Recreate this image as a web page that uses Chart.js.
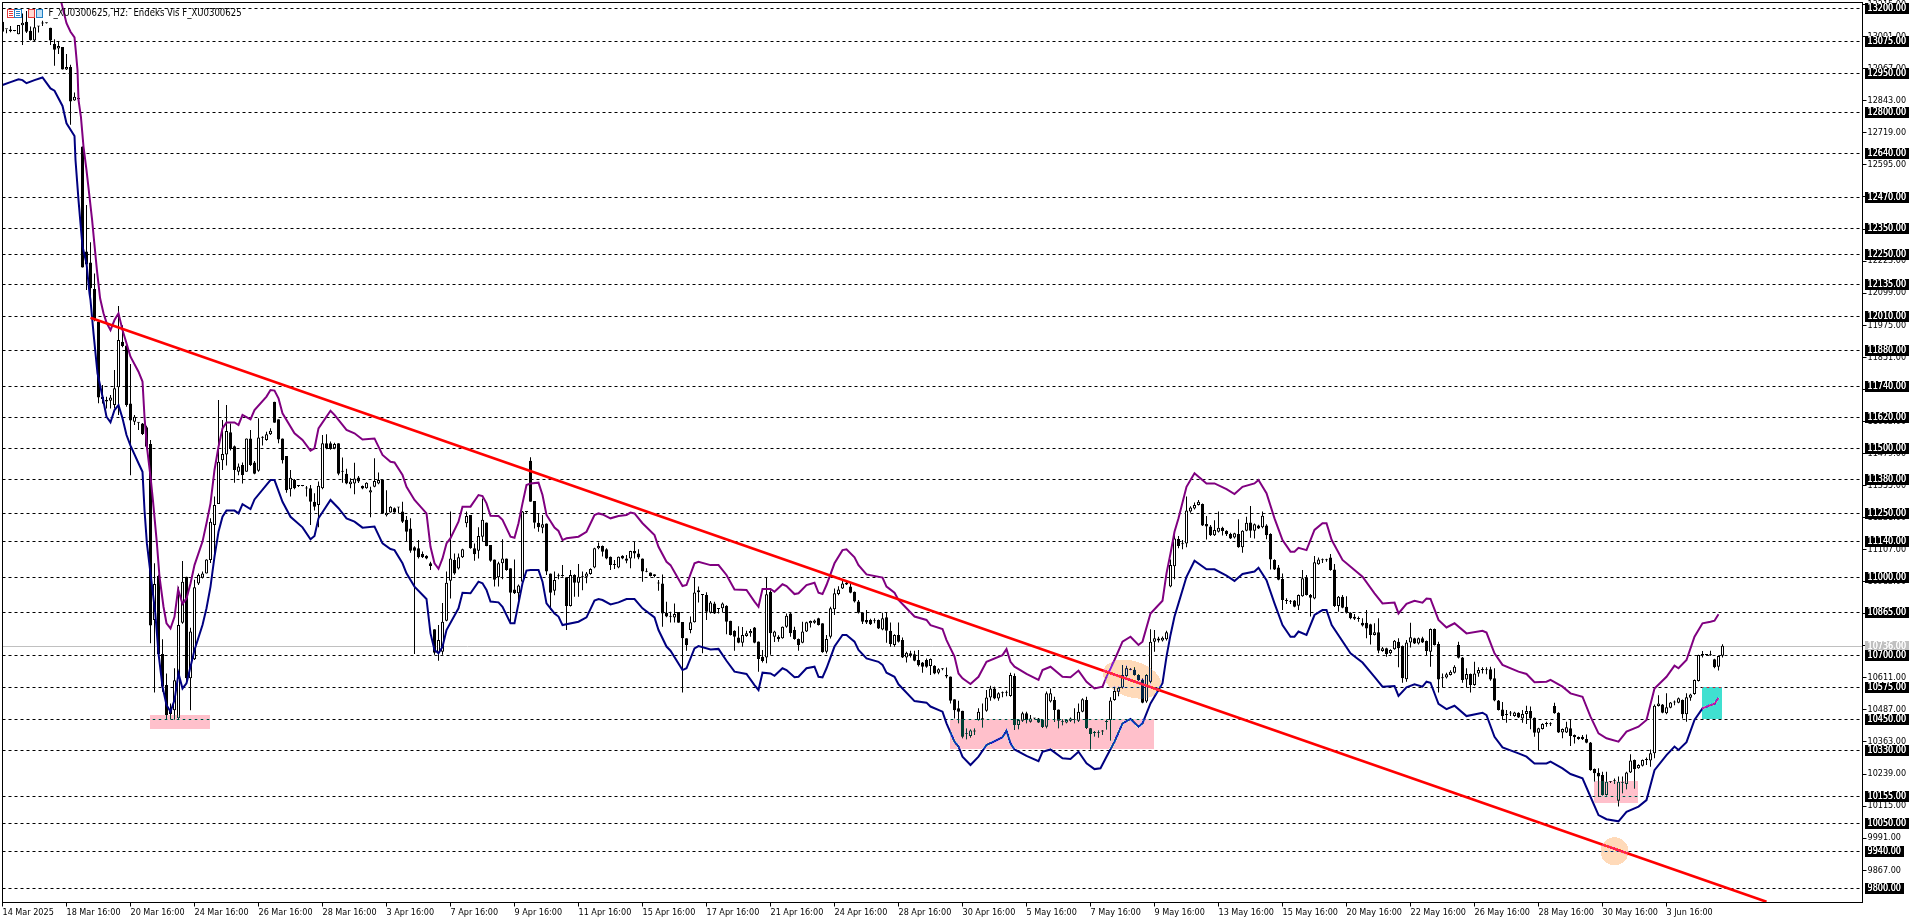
<!DOCTYPE html>
<html><head><meta charset="utf-8">
<style>html,body{margin:0;padding:0;background:#fff;overflow:hidden}canvas{display:block}</style>
<script src="https://cdn.jsdelivr.net/npm/chart.js@4/dist/chart.umd.min.js"></script>
</head><body><canvas id="c" width="1920" height="923" style="width:1920px;height:923px"></canvas>
<script>
const opens=[13149,13120,13119,13113,13100,13135,13149,13114,13076,13130,
13142,13143,13126,13063,13045,13051,12964,12974,12844,12850,
12666,12260,12218,12115,11989,11698,11686,11683,11666,11735,
11911,11896,11672,11602,11598,11595,11580,11515,10835,11005,
10703,10583,10471,10486,10455,10824,11002,10609,10683,10976,
10998,11015,11067,11202,11283,11453,11475,11561,11507,11408,
11434,11408,11537,11444,11412,11540,11531,11553,11679,11611,
11537,11469,11340,11376,11353,11353,11343,11344,11292,11280,
11344,11518,11518,11499,11518,11410,11400,11360,11363,11386,
11353,11344,11328,11350,11363,11376,11240,11251,11267,11270,
11254,11222,11189,11116,11112,11090,11083,11054,10799,10708,
10712,10832,10987,11067,11034,11077,11209,11241,11112,11103,
11157,11212,11125,11069,11000,11054,11073,11035,10953,10938,
10983,11254,11451,11295,11211,11192,11208,11015,10948,11004,
11005,11000,10889,11009,10979,11000,11002,11013,11038,11112,
11121,11108,11079,11047,11038,11083,11073,11073,11102,11092,
11073,11022,11018,11012,10976,10976,10863,10848,10844,10866,
10827,10764,10796,10826,10942,10931,10931,10863,10899,10877,
10880,10890,10832,10793,10767,10747,10773,10783,10806,10752,
10693,10690,10944,10770,10770,10764,10809,10860,10796,10761,
10747,10790,10822,10824,10841,10822,10712,10770,10876,10935,
10957,10972,10964,10944,10906,10863,10835,10835,10831,10835,
10798,10845,10793,10738,10777,10757,10690,10706,10702,10680,
10670,10680,10657,10658,10631,10644,10622,10616,10528,10493,
10484,10396,10386,10403,10448,10450,10484,10535,10570,10531,
10551,10553,10541,10618,10429,10445,10474,10441,10454,10454,
10448,10422,10519,10525,10489,10441,10438,10445,10447,10445,
10480,10525,10416,10399,10399,10403,10440,10448,10525,10557,
10574,10618,10642,10642,10622,10605,10519,10596,10751,10755,
10755,10760,10964,11043,11148,11129,11131,11254,11266,11280,
11283,11206,11196,11163,11176,11192,11180,11167,11154,11167,
11116,11180,11212,11180,11200,11193,11200,11167,11067,11038,
10993,10910,10905,10910,10890,10927,11000,10931,10918,11050,
11067,11067,11076,11030,10889,10925,10886,10863,10847,10840,
10824,10824,10818,10777,10787,10715,10725,10706,10722,10751,
10734,10606,10748,10764,10744,10764,10753,10712,10800,10742,
10609,10612,10622,10631,10738,10690,10605,10626,10583,10628,
10641,10641,10644,10609,10523,10489,10467,10474,10463,10476,
10454,10471,10483,10457,10399,10413,10432,10432,10502,10476,
10400,10400,10416,10390,10382,10383,10374,10361,10258,10244,
10235,10158,10209,10212,10136,10203,10200,10245,10293,10261,
10271,10293,10291,10319,10502,10508,10474,10495,10516,10515,
10525,10470,10534,10548,10599,10699,10699,10699,10683,10654,10696];
const highs=[13149,13120,13132,13114,13136,13181,13190,13130,13175,13132,
13153,13144,13126,13081,13072,13051,13024,12982,12875,12852,
12666,12440,12296,12175,11989,11744,11698,11705,11802,12049,
11975,11911,11825,11628,11600,11597,11586,11531,11054,11010,
10760,10628,10512,10648,10963,11063,11002,10805,10990,11015,
11022,11070,11228,11312,11686,11608,11666,11595,11510,11440,
11444,11537,11570,11450,11615,11545,11563,11576,11679,11611,
11537,11469,11415,11380,11355,11354,11353,11357,11325,11370,
11550,11553,11525,11520,11518,11463,11420,11383,11443,11392,
11355,11368,11350,11460,11405,11376,11337,11275,11270,11272,
11292,11237,11228,11120,11144,11100,11085,11060,10799,10815,
10900,11022,11254,11092,11092,11110,11254,11241,11131,11193,
11305,11212,11125,11069,11060,11147,11073,11035,11069,10972,
11256,11256,11464,11295,11245,11241,11208,11015,11022,11015,
11047,11000,11028,11012,11051,11022,11020,11035,11114,11134,
11123,11112,11080,11067,11080,11085,11086,11103,11138,11108,
11073,11035,11018,11012,10989,11011,10905,10867,10899,10866,
10827,10764,10848,11000,10964,10932,10942,10908,10905,10878,
10902,10892,10832,10795,10811,10808,10793,10800,10808,10752,
10719,11000,10950,10793,10776,10810,10860,10863,10809,10763,
10828,10828,10833,10837,10843,10822,10777,10886,10957,10965,
10990,10985,10976,10945,10912,10865,10873,10840,10841,10837,
10863,10863,10825,10780,10825,10767,10712,10716,10716,10719,
10672,10686,10686,10660,10648,10648,10651,10616,10528,10522,
10484,10416,10412,10416,10493,10512,10564,10580,10577,10555,
10558,10562,10631,10628,10450,10480,10480,10467,10456,10456,
10450,10558,10570,10538,10489,10450,10450,10458,10493,10512,
10532,10538,10416,10405,10408,10409,10450,10536,10577,10577,
10661,10658,10648,10652,10625,10608,10625,10799,10796,10770,
10771,10793,11069,11163,11160,11144,11312,11275,11289,11299,
11285,11237,11202,11221,11254,11195,11182,11172,11172,11224,
11182,11234,11276,11208,11203,11254,11205,11170,11070,11047,
11015,10919,10912,10912,10933,11028,11009,10935,11082,11076,
11073,11072,11090,11051,10928,10931,10927,10865,10858,10848,
10841,10873,10820,10822,10841,10730,10727,10722,10757,10764,
10736,10757,10824,10766,10767,10770,10755,10802,10802,10751,
10628,10631,10640,10660,10751,10692,10648,10628,10673,10652,
10652,10652,10654,10648,10525,10518,10487,10483,10480,10478,
10487,10503,10500,10458,10418,10435,10441,10439,10515,10478,
10415,10441,10450,10392,10384,10390,10392,10363,10260,10261,
10248,10248,10211,10222,10229,10229,10248,10315,10295,10277,
10295,10303,10334,10508,10544,10510,10551,10518,10523,10535,
10527,10551,10549,10605,10700,10715,10702,10716,10685,10697,10741];
const lows=[13110,13104,13108,13112,13100,13059,13105,13076,13072,13107,
13132,13142,13059,12979,13024,12964,12962,12750,12843,12848,
12198,12111,12080,11990,11673,11672,11653,11653,11653,11628,
11890,11660,11395,11589,11570,11550,11497,10745,10554,10700,
10557,10450,10450,10450,10450,10820,10600,10486,10680,10970,
10995,11015,11055,11092,11283,11415,11432,11490,11366,11395,
11363,11408,11430,11398,11408,11510,11528,11550,11598,11518,
11440,11327,11312,11340,11349,11352,11312,11202,11258,11193,
11340,11495,11493,11495,11395,11366,11360,11344,11321,11365,
11340,11342,11232,11348,11360,11245,11235,11250,11250,11248,
11210,11137,11095,10703,11073,11075,11070,11028,10700,10677,
10700,10830,10918,11010,11030,11075,11193,11110,11064,11073,
11138,11120,11060,10964,10964,10992,11025,10819,10935,10912,
10980,11250,11292,11189,11176,11170,11009,10873,10930,10992,
11002,10796,10887,10925,10925,10950,10977,11010,11035,11108,
11080,11070,11028,11032,11035,11070,11054,11035,11073,11070,
10983,11019,11003,11000,10948,10809,10845,10825,10825,10824,
10554,10716,10783,10825,10902,10706,10835,10860,10858,10860,
10865,10780,10775,10716,10745,10731,10770,10770,10745,10635,
10670,10667,10700,10750,10751,10762,10805,10770,10758,10716,
10745,10788,10806,10820,10813,10708,10705,10763,10854,10930,
10955,10970,10938,10902,10860,10819,10819,10815,10822,10800,
10795,10747,10731,10731,10748,10688,10670,10690,10675,10655,
10631,10650,10622,10625,10625,10640,10609,10512,10454,10435,
10377,10373,10380,10390,10445,10418,10480,10522,10528,10522,
10536,10540,10538,10409,10412,10440,10435,10438,10450,10436,
10418,10416,10516,10440,10416,10428,10435,10440,10435,10440,
10478,10414,10334,10383,10380,10390,10410,10368,10522,10540,
10570,10615,10640,10620,10600,10513,10515,10590,10712,10748,
10752,10755,10961,10992,11112,11108,11116,11250,11262,11278,
11198,11146,11160,11160,11173,11162,11160,11148,11150,11114,
11095,11178,11153,11150,11187,11190,11147,11030,11028,10988,
10873,10897,10897,10884,10873,10925,10929,10848,10915,11048,
11055,11060,11025,10885,10867,10880,10860,10838,10835,10828,
10810,10764,10740,10775,10706,10712,10693,10702,10720,10652,
10592,10596,10728,10742,10740,10746,10695,10654,10736,10554,
10574,10608,10620,10628,10686,10592,10574,10554,10580,10615,
10628,10625,10600,10520,10485,10448,10437,10463,10460,10456,
10437,10432,10412,10383,10329,10411,10422,10425,10472,10398,
10377,10398,10347,10357,10372,10371,10358,10252,10209,10151,
10155,10155,10205,10200,10113,10165,10180,10243,10183,10259,
10268,10274,10267,10300,10500,10474,10470,10493,10505,10513,
10454,10441,10522,10546,10597,10690,10696,10696,10648,10639,10690];
const closes=[13110,13120,13112,13113,13136,13145,13110,13078,13127,13132,
13142,13143,13076,13040,13055,12964,12974,12840,12859,12850,
12198,12210,12118,11995,11695,11690,11680,11695,11731,11918,
11895,11666,11606,11621,11600,11554,11505,10813,10974,10703,
10577,10467,10490,10602,10815,10983,10609,10790,10961,11009,
11015,11069,11215,11280,11447,11477,11566,11496,11415,11428,
11396,11537,11434,11400,11541,11542,11553,11567,11598,11533,
11453,11337,11385,11344,11353,11353,11343,11292,11273,11354,
11518,11498,11496,11515,11400,11408,11363,11370,11382,11370,
11343,11366,11337,11372,11376,11247,11250,11273,11251,11270,
11215,11176,11103,11103,11077,11077,11073,11044,10708,10757,
10828,10979,11073,11015,11077,11108,11237,11112,11089,11160,
11222,11121,11064,10990,11054,11073,11028,10940,10938,10968,
11254,11252,11292,11211,11193,11205,11022,10940,10989,11005,
11006,10889,11009,10979,11002,11003,11015,11032,11112,11121,
11099,11073,11047,11048,11079,11073,11064,11102,11092,11076,
11022,11021,11005,11005,10976,10860,10848,10847,10858,10824,
10764,10738,10826,10941,10950,10931,10867,10902,10860,10877,
10899,10828,10777,10770,10747,10777,10783,10792,10747,10684,
10676,10934,10783,10790,10760,10809,10851,10783,10761,10738,
10790,10826,10831,10833,10815,10710,10761,10880,10938,10953,
10976,10979,10940,10906,10863,10828,10825,10818,10830,10802,
10841,10793,10742,10777,10751,10690,10708,10696,10677,10660,
10654,10654,10684,10628,10644,10644,10616,10522,10486,10480,
10383,10395,10407,10404,10480,10455,10535,10570,10531,10551,
10552,10553,10622,10429,10448,10474,10448,10454,10454,10438,
10420,10551,10551,10487,10445,10442,10448,10454,10448,10480,
10528,10416,10394,10398,10400,10404,10441,10523,10560,10573,
10622,10648,10642,10622,10602,10515,10622,10751,10764,10763,
10766,10787,11047,11150,11121,11128,11258,11270,11280,11292,
11200,11196,11163,11183,11192,11179,11166,11150,11170,11116,
11180,11211,11180,11205,11189,11238,11163,11069,11030,10990,
10912,10908,10906,10886,10931,10996,10931,10921,11058,11069,
11066,11066,11028,10889,10925,10882,10863,10841,10840,10839,
10813,10802,10777,10787,10716,10725,10703,10719,10754,10725,
10609,10748,10768,10744,10764,10748,10715,10800,10738,10605,
10610,10625,10635,10654,10689,10603,10626,10583,10628,10641,
10642,10640,10605,10523,10487,10463,10468,10473,10477,10458,
10471,10483,10454,10399,10416,10432,10433,10431,10474,10400,
10413,10420,10386,10381,10374,10373,10360,10254,10242,10229,
10158,10209,10207,10211,10209,10204,10245,10291,10257,10274,
10293,10294,10319,10503,10512,10476,10497,10516,10517,10532,
10470,10536,10547,10603,10699,10700,10699,10698,10652,10695,10735];

const upperBars=[14,14.7,16,17,18,18.3,18.75,19,19.6,20.25,21,21.75,22.4,23,23.6,24.4,25.25,26,27,28,29,30,31,32,34,35,35.5,36.1,37,37.6,38.6,39.25,40.25,41,42,43,43.9,45,46,47,48,50,51,52,53,54,55,56,58,59,60,62,63,66,67,68,69,70,73,75,77,78,79,82,83,86,88,90,93,95,97,98,100,101,103,106,107,108,109,110,111,112,114,115,117,119,
120,121,122,124,125,127,128,129,130,131,132,134,135,136,138,139,140,141,144,146,148,149,150,152,154,156,157,158,160,163,164,166,167,170,171,173,174,177,179,181,183,186,188,189,190,192,193,195,196,198,199,201,203,204,205,206,208,210,211,213,214,216,220,221,223,224,228,231,232,235,236,238,
239,240,242,244,246,250,251,252,253,256,259,260,262,265,267,269,271,273,275,276,278,280,282,284,285,287,290,291,292,293,294,296,298,301,303,306,308,310,313,314,316,318,320,322,323,324,326,328,330,331,332.3,335,340,343,345,348,349,
351,353,355,356,357,359,361,363,366,370,371,373,375,379,381,383,386,387,390,392,395,397,399,401,404,406,409,411,413,416,418,419,421,423,425,427,428,429];
const upperBand=[13240,13224,13143,13110,13088,13040,12962,12846,12782,12666,12575,12472,12382,12285,12189,12079,12021,11985,11956,11995,12021,11956,11905,11853,11795,11757,11621,11505,11389,11299,11131,11002,10886,10822,10802,10847,10953,10897,10918,10976,11047,11138,11209,11286,11415,11505,11576,11599,11599,11589,11628,11611,11647,11699,11724,11722,11692,11634,11557,11531,11490,11499,11576,11644,11628,11570,11557,11533,11537,11473,11447,11444,11396,11350,11299,11247,11118,11054,11033,11073,11131,11151,11215,11273,11273,11318,
11314,11286,11238,11237,11222,11157,11153,11209,11286,11357,11363,11366,11318,11241,11192,11179,11144,11151,11157,11176,11241,11247,11243,11228,11237,11241,11250,11247,11209,11163,11118,11060,11047,10966,10970,11054,11060,11047,11047,11009,10953,10951,10906,10886,10955,10955,10944,10973,10966,10935,10938,10970,10979,10940,10935,10970,11054,11105,11108,11077,11047,11011,10999,10964,10940,10912,10848,10835,10815,10800,10757,10693,
10628,10609,10587,10615,10673,10699,10722,10673,10654,10626,10603,10641,10654,10615,10613,10639,10596,10570,10577,10615,10680,10751,10770,10738,10751,10860,10909,11015,11092,11176,11228,11350,11402,11363,11363,11341,11322,11350,11363,11376,11325,11228,11144,11099,11099,11114,11105,11183,11209,11209,11144,11067,11002,10938,10899,10902,10860,
10897,10909,10902,10918,10916,10835,10806,10822,10783,10793,10786,10706,10661,10635,10626,10594,10596,10603,10577,10551,10538,10461,10396,10377,10364,10403,10422,10448,10570,10615,10658,10648,10680,10770,10822,10828,10832,10857];
const lowerBars=[0,2,4,5,6,8,10,12,13,15,16,18,18.25,19,20,21,21.75,22,22.75,23.75,25,26,27,28,29,30,31,32,34,35,35.5,36.1,37,38.2,39,40,41,42,43,44,45,46,47,48,50,51,52,53,54,55,56,58,59,60,62,63,66,67,68,70,72,75,77,78,79,82,84,86,88,90,93,95,97,98,100,101,103,106,107,108,109,110,111,114,115,117,119,
120,121,122,124,125,127,128,129,130,131,132,134,135,136,138,139,140,144,146,148,149,150,152,154,156,158,160,163,164,166,167,170,171,173,174,177,179,181,183,186,188,189,190,192,193,195,196,198,199,201,203,204,205,206,208,210,211,213,214,216,219,220,221,223,224,228,231,232,235,236,238,
239,240,242,244,246,250,251,252,253,256,259,260,262,265,267,269,271,273,274.5,276,278,280,282,284,285,287,290,291,292,293,294,296,298,301,303,306,308,310,313,314,316,318,320,322,323,324,326,328,330,331,332.3,337,340,343,345,348,349,
351,353,355,356,357,359,361,363,366,370,371,373,375,379,381,383,386,387,390,392,395,397,399,401,404,406,409,411,413,416,418,419,421,423,425,427,428,429];
const lowerBand=[12904,12915,12926,12923,12911,12923,12933,12891,12882,12823,12756,12707,12614,12459,12279,12215,12098,12072,11944,11789,11699,11621,11599,11647,11666,11615,11550,11509,11441,11408,11260,11131,11015,10860,10706,10577,10506,10480,10525,10628,10570,10590,10654,10719,10815,10880,10964,11080,11176,11234,11258,11258,11247,11283,11264,11301,11357,11376,11376,11292,11234,11193,11147,11160,11228,11299,11267,11228,11215,11192,11196,11131,11109,11105,11054,11015,10964,10916,10783,10719,10706,10731,10796,10880,10940,10938,10983,
10977,10951,10906,10903,10886,10822,10822,10899,10977,11026,11028,11028,10983,10899,10860,10848,10815,10828,10845,10910,10916,10912,10895,10903,10916,10916,10880,10845,10796,10732,10716,10641,10648,10725,10734,10721,10723,10677,10635,10626,10583,10564,10631,10628,10619,10648,10641,10613,10615,10648,10654,10615,10613,10648,10732,10777,10777,10751,10719,10686,10673,10661,10631,10615,10586,10521,10515,10500,10480,10435,10364,
10345,10306,10274,10306,10351,10381,10407,10358,10334,10309,10289,10325,10334,10300,10297,10325,10280,10258,10261,10306,10364,10435,10452,10422,10435,10512,10590,10693,10777,10848,10899,11002,11064,11031,11031,11006,10986,11013,11022,11037,10989,10899,10815,10770,10770,10790,10777,10854,10873,10873,10815,10706,10670,10615,10577,10579,10541,
10574,10586,10577,10596,10592,10510,10490,10503,10463,10476,10467,10383,10342,10319,10306,10280,10280,10287,10261,10239,10222,10151,10080,10064,10056,10093,10113,10138,10254,10312,10345,10332,10362,10448,10493,10506,10510,10534];

const trendBars=[22,441];
const trendValues=[12004,9745];
const dashedLevels=[13200,13075,12950,12800,12640,12470,12350,12250,12135,12010,11880,11740,11620,11500,11380,11250,11140,11000,10865,10700,10575,10450,10330,10155,10050,9940,9800];
const lastPrice=10736;
const axisTicks=[13215,13091,12967,12843,12719,12595,12471,12347,12223,12099,11975,11851,11727,11603,11479,11355,11231,11107,10983,10859,10735,10611,10487,10363,10239,10115,9991,9867];
const dateLabels=['14 Mar 2025','18 Mar 16:00','20 Mar 16:00','24 Mar 16:00','26 Mar 16:00','28 Mar 16:00','3 Apr 16:00','7 Apr 16:00','9 Apr 16:00','11 Apr 16:00','15 Apr 16:00','17 Apr 16:00','21 Apr 16:00','24 Apr 16:00','28 Apr 16:00','30 Apr 16:00','5 May 16:00','7 May 16:00','9 May 16:00','13 May 16:00','15 May 16:00','20 May 16:00','22 May 16:00','26 May 16:00','28 May 16:00','30 May 16:00','3 Jun 16:00'];
const dateBars=dateLabels.map((_,k)=>k*16);
const title='F_XU0300625, H2:  Endeks Vis F_XU0300625';

const zoneFromBar=[36.9,236.9,397.9,424.9];
const zoneToBar=[51.9,287.9,408.9,429.9];
const zoneTop=[10467,10452,10213,10575];
const zoneBottom=[10413,10336,10128,10452];
const zoneMask=[[0,63,52],[0,63,52],[0,63,52],[191,31,47]];
const ovalBar=[282.4,403];
const ovalPrice=[10606,9940];
const ovalBarRadius=[7.5,3.5];
const ovalPriceRadius=[70,54];
const ovalTilt=[0.3,0];
const ovalMask=[0,37,70];

const FONT='"DejaVu Sans Condensed","Liberation Sans",sans-serif';
const pts=(xs,ys)=>xs.map((x,k)=>({x,y:ys[k]}));
const isUp=k=>closes[k]>=opens[k];

const chromePlugin={id:'chrome',
 beforeDraw(ch){const c=ch.ctx;c.save();c.fillStyle='#fff';c.fillRect(0,0,ch.width,ch.height);c.restore();},
 beforeDatasetsDraw(ch){const c=ch.ctx,a=ch.chartArea,y=ch.scales.y;c.save();
  c.lineWidth=1;c.strokeStyle='#000';c.setLineDash([3,3]);
  dashedLevels.forEach(v=>{const p=Math.round(y.getPixelForValue(v))+.5;c.beginPath();c.moveTo(a.left,p);c.lineTo(a.right,p);c.stroke();});
  c.setLineDash([]);c.strokeStyle='#c0c0c0';
  const p=Math.round(y.getPixelForValue(lastPrice))+.5;c.beginPath();c.moveTo(a.left,p);c.lineTo(a.right,p);c.stroke();
  c.restore();},
 afterDatasetsDraw(ch){const c=ch.ctx,x=ch.scales.x,y=ch.scales.y;
  const xorRegion=(x0,y0,x1,y1,mask,test)=>{x0=Math.round(x0);y0=Math.round(y0);x1=Math.round(x1);y1=Math.round(y1);
   const w=x1-x0,h=y1-y0,img=c.getImageData(x0,y0,w,h),d=img.data;
   for(let j=0;j<h;j++)for(let i=0;i<w;i++){if(test&&!test(x0+i+.5,y0+j+.5))continue;const o=(j*w+i)*4;d[o]^=mask[0];d[o+1]^=mask[1];d[o+2]^=mask[2];}
   c.putImageData(img,x0,y0);};
  zoneFromBar.forEach((b,k)=>xorRegion(x.getPixelForValue(b),y.getPixelForValue(zoneTop[k]),x.getPixelForValue(zoneToBar[k]),y.getPixelForValue(zoneBottom[k]),zoneMask[k]));
  ovalBar.forEach((b,k)=>{const cx=x.getPixelForValue(b),cy=y.getPixelForValue(ovalPrice[k]);
   const ra=x.getPixelForValue(b+ovalBarRadius[k])-cx,rb=cy-y.getPixelForValue(ovalPrice[k]+ovalPriceRadius[k]);
   const t=ovalTilt[k],cs=Math.cos(t),sn=Math.sin(t),m=Math.max(ra,rb)+1;
   xorRegion(cx-m,cy-m,cx+m,cy+m,ovalMask,(px,py)=>{const dx=px-cx,dy=py-cy,u=dx*cs+dy*sn,v=-dx*sn+dy*cs;return u*u/(ra*ra)+v*v/(rb*rb)<=1;});});
 },
 afterDraw(ch){const c=ch.ctx,a=ch.chartArea,y=ch.scales.y;c.save();
  c.strokeStyle='#000';c.lineWidth=1;c.strokeRect(a.left,a.top,a.right-a.left,a.bottom-a.top);
  c.font='9px '+FONT;c.textBaseline='middle';c.textAlign='left';
  const tall=(t,px,py,times)=>{c.save();c.translate(px,py);c.scale(1,1.18);for(let n=0;n<times;n++)c.fillText(t,0,0);c.restore();};
  const box=(v,bg)=>{const t=v.toFixed(2),p=Math.round(y.getPixelForValue(v));const w=t.length>=8?44:39;
   c.fillStyle=bg;c.fillRect(1865,p-5,w,11);c.fillStyle='#fff';tall(t,1867.5,p+.5,2);};
  box(lastPrice,'#c0c0c0');
  dashedLevels.forEach(v=>box(v,'#000'));
  // window icons
  c.lineWidth=1;
  c.strokeStyle='#e23b3b';c.strokeRect(7.5,9.5,7,8);c.strokeStyle='#1f7fc4';c.strokeRect(14.5,9.5,7,8);
  c.fillStyle='#e23b3b';[11,13,15].forEach(l=>c.fillRect(9,l,4,1));c.fillStyle='#1f7fc4';[11,13,15].forEach(l=>c.fillRect(16,l,4,1));
  c.fillStyle='#ffd9d2';c.fillRect(28.5,9.5,6,8);c.strokeStyle='#e23b3b';c.strokeRect(28.5,9.5,6,8);
  c.fillStyle='#bfe0f5';c.fillRect(36.5,9.5,6,8);c.strokeStyle='#1f7fc4';c.strokeRect(36.5,9.5,6,8);
  c.fillStyle='#000';c.font='9.5px '+FONT;tall(title,48.5,13.5,1);
  c.restore();}
};

new Chart(document.getElementById('c'),{
 type:'bar',
 plugins:[chromePlugin],
 data:{datasets:[
  {type:'bar',label:'range',order:5,grouped:false,barThickness:1,minBarLength:1,inflateAmount:0,backgroundColor:'#000',borderWidth:0,clip:false,
   data:lows.map((l,k)=>({x:k,y:[l,highs[k]]}))},
  {type:'bar',label:'body',order:4,grouped:false,barThickness:3,minBarLength:1,inflateAmount:0,borderColor:'#000',borderWidth:1,borderSkipped:false,
   backgroundColor:c=>isUp(c.dataIndex)?'#fff':'#000',
   data:opens.map((o,k)=>({x:k,y:[o,closes[k]]}))},
  {type:'line',label:'upper',order:3,borderColor:'#800080',borderWidth:2,pointRadius:0,tension:0,fill:false,data:pts(upperBars,upperBand)},
  {type:'line',label:'lower',order:2,borderColor:'#000080',borderWidth:2,pointRadius:0,tension:0,fill:false,data:pts(lowerBars,lowerBand)},
  {type:'line',label:'trend',order:1,borderColor:'#ff0000',borderWidth:2.5,pointRadius:0,tension:0,fill:false,data:pts(trendBars,trendValues)}
 ]},
 options:{responsive:false,animation:false,devicePixelRatio:1,events:[],
  layout:{padding:{left:2.5,top:2.5,right:0,bottom:0}},
  plugins:{legend:{display:false},tooltip:{enabled:false},title:{display:false}},
  scales:{
   x:{type:'linear',offset:false,min:0,max:465,
    afterBuildTicks(s){s.ticks=dateBars.map(value=>({value}));},
    afterFit(s){s.height=20.5;s.paddingLeft=0;s.paddingRight=0;},
    grid:{offset:false,drawOnChartArea:false,tickLength:4,color:'#000',tickWidth:1},
    border:{display:true,color:'#000',width:1},
    ticks:{autoSkip:false,maxRotation:0,minRotation:0,align:'start',padding:1,color:'#000',font:{family:FONT,size:9},
     callback:(v,k)=>dateLabels[k]}},
   y:{type:'linear',position:'right',min:9742,max:13223.2,
    afterBuildTicks(s){s.ticks=axisTicks.map(value=>({value}));},
    afterFit(s){s.width=57.5;s.paddingTop=0;s.paddingBottom=0;},
    grid:{drawOnChartArea:false,tickLength:4,color:'#000',tickWidth:1},
    border:{display:true,color:'#000',width:1},
    ticks:{autoSkip:false,padding:1,color:'#000',font:{family:FONT,size:9},callback:v=>v.toFixed(2)}}
  }}
});
</script></body></html>
